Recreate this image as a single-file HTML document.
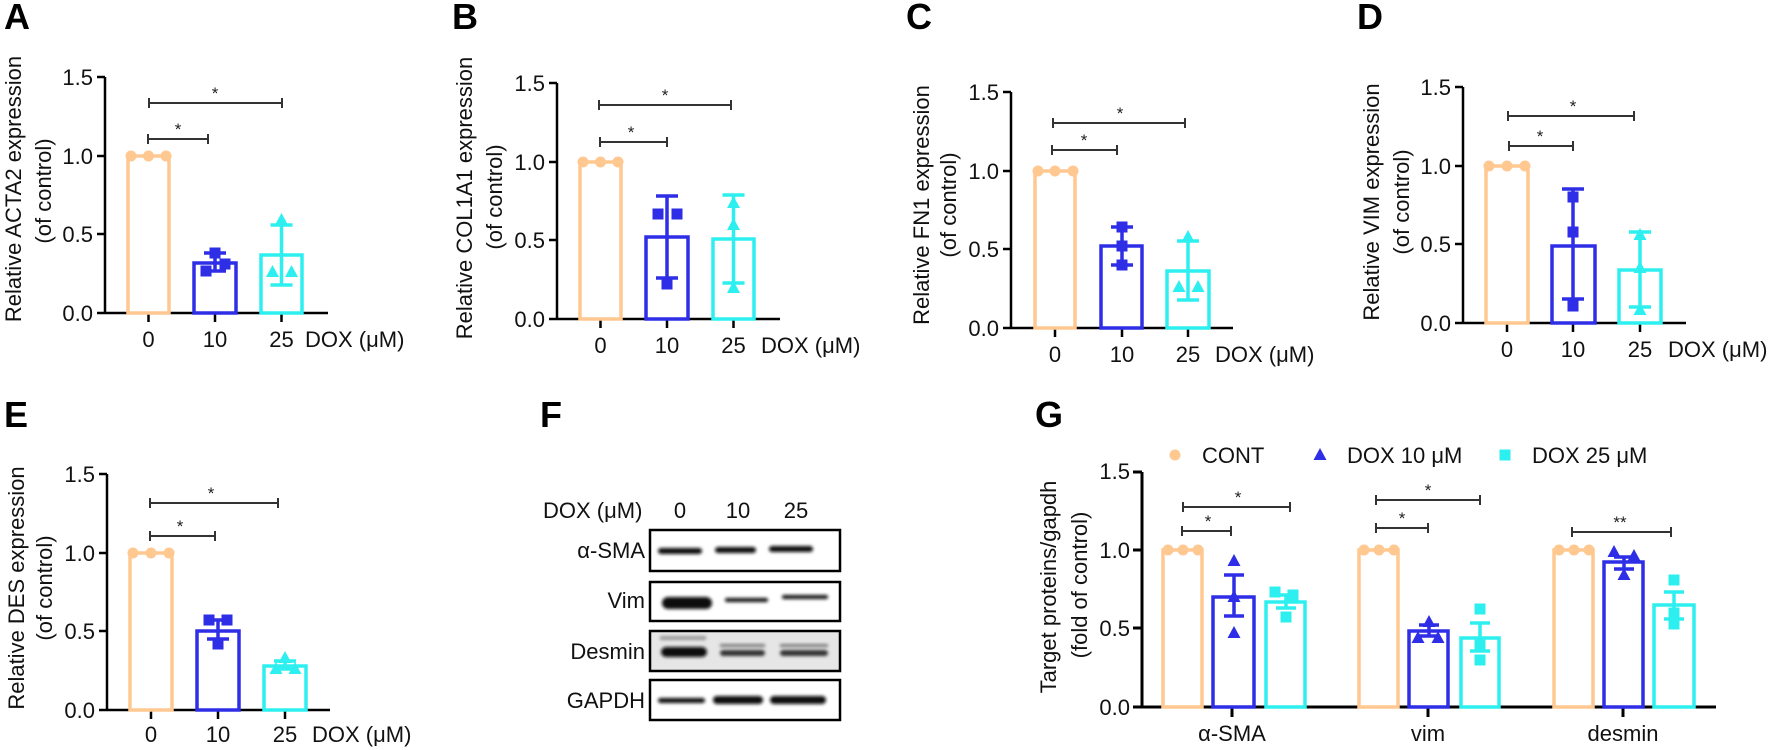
<!DOCTYPE html>
<html><head><meta charset="utf-8"><style>
html,body{margin:0;padding:0;background:#fff;}
svg{display:block;font-family:"Liberation Sans",Arial,sans-serif;}
.t{font-size:22px;fill:#111;}
.L{font-size:36px;font-weight:bold;fill:#000;}
.s{font-size:17px;fill:#222;}
</style></head><body>
<svg width="1772" height="750" viewBox="0 0 1772 750" xmlns="http://www.w3.org/2000/svg">
<defs>
<filter id="bl" x="-20%" y="-100%" width="140%" height="300%"><feGaussianBlur stdDeviation="1.6"/></filter>
</defs>
<rect width="1772" height="750" fill="#fff"/>
<text class="L" x="4" y="29">A</text>
<text class="L" x="452" y="29">B</text>
<text class="L" x="906" y="29">C</text>
<text class="L" x="1357" y="29">D</text>
<text class="L" x="4" y="427">E</text>
<text class="L" x="540" y="427">F</text>
<text class="L" x="1035" y="427">G</text>

<!-- Panel A -->
<g transform="translate(105,313)">
<text class="t" transform="translate(-84,-124) rotate(-90)" text-anchor="middle">Relative ACTA2 expression</text>
<text class="t" transform="translate(-54,-122) rotate(-90)" text-anchor="middle">(of control)</text>
<path d="M0,0V-236M-8,0H223M-8,-79H0M-8,-157H0M-8,-236H0M43.5,0V9M110,0V9M176.5,0V9" stroke="#000" stroke-width="2.5" fill="none"/>
<g class="t" text-anchor="end"><text x="-12" y="8">0.0</text><text x="-12" y="-71">0.5</text><text x="-12" y="-149">1.0</text><text x="-12" y="-228">1.5</text></g>
<g class="t" text-anchor="middle"><text x="43.5" y="34">0</text><text x="110" y="34">10</text><text x="176.5" y="34">25</text></g>
<text class="t" x="200" y="34">DOX (μM)</text>
<rect x="23" y="-157" width="41" height="157" fill="none" stroke="#FFC890" stroke-width="3.5"/>
<g fill="#FFC890"><circle cx="26" cy="-157" r="5.5"/><circle cx="43.5" cy="-157" r="5.5"/><circle cx="61" cy="-157" r="5.5"/></g>
<rect x="89" y="-50" width="42" height="50" fill="none" stroke="#2E2EE6" stroke-width="3.5"/>
<path d="M110,-42V-60M99,-42H121M99,-60H121" stroke="#2E2EE6" stroke-width="3.5"/>
<g fill="#2E2EE6"><rect x="104.5" y="-65.5" width="11" height="11"/><rect x="114.5" y="-54.5" width="11" height="11"/><rect x="95.5" y="-47.5" width="11" height="11"/></g>
<rect x="156" y="-58" width="41" height="58" fill="none" stroke="#2EEFEF" stroke-width="3.5"/>
<path d="M176.5,-28V-88M165.5,-28H187.5M165.5,-88H187.5" stroke="#2EEFEF" stroke-width="3.5"/>
<g fill="#2EEFEF"><polygon points="176.5,-100 183,-88 170,-88"/><polygon points="167.5,-48 174,-36 161,-36"/><polygon points="186.5,-48 193,-36 180,-36"/></g>
<path d="M43,-174H103M43,-179V-169M103,-179V-169M44,-210H177M44,-215V-205M177,-215V-205" stroke="#333" stroke-width="2" fill="none"/>
<text class="s" x="73" y="-178" text-anchor="middle">*</text><text class="s" x="110" y="-214" text-anchor="middle">*</text>
</g>

<!-- Panel B -->
<g transform="translate(557,319)">
<text class="t" transform="translate(-85,-121) rotate(-90)" text-anchor="middle">Relative COL1A1 expression</text>
<text class="t" transform="translate(-55,-122) rotate(-90)" text-anchor="middle">(of control)</text>
<path d="M0,0V-236M-8,0H223M-8,-79H0M-8,-157H0M-8,-236H0M43.5,0V9M110,0V9M176.5,0V9" stroke="#000" stroke-width="2.5" fill="none"/>
<g class="t" text-anchor="end"><text x="-12" y="8">0.0</text><text x="-12" y="-71">0.5</text><text x="-12" y="-149">1.0</text><text x="-12" y="-228">1.5</text></g>
<g class="t" text-anchor="middle"><text x="43.5" y="34">0</text><text x="110" y="34">10</text><text x="176.5" y="34">25</text></g>
<text class="t" x="204" y="34">DOX (μM)</text>
<rect x="23" y="-157" width="41" height="157" fill="none" stroke="#FFC890" stroke-width="3.5"/>
<g fill="#FFC890"><circle cx="26" cy="-157" r="5.5"/><circle cx="43.5" cy="-157" r="5.5"/><circle cx="61" cy="-157" r="5.5"/></g>
<rect x="89" y="-82" width="42" height="82" fill="none" stroke="#2E2EE6" stroke-width="3.5"/>
<path d="M110,-41V-123M99,-41H121M99,-123H121" stroke="#2E2EE6" stroke-width="3.5"/>
<g fill="#2E2EE6"><rect x="95.5" y="-110.5" width="11" height="11"/><rect x="114.5" y="-110.5" width="11" height="11"/><rect x="104.5" y="-40.5" width="11" height="11"/></g>
<rect x="156" y="-80" width="41" height="80" fill="none" stroke="#2EEFEF" stroke-width="3.5"/>
<path d="M176.5,-36V-124M165.5,-36H187.5M165.5,-124H187.5" stroke="#2EEFEF" stroke-width="3.5"/>
<g fill="#2EEFEF"><polygon points="176.5,-123 183,-111 170,-111"/><polygon points="176.5,-101 183,-89 170,-89"/><polygon points="176.5,-38 183,-26 170,-26"/></g>
<path d="M43,-177H110M43,-182V-172M110,-182V-172M42,-214H174M42,-219V-209M174,-219V-209" stroke="#333" stroke-width="2" fill="none"/>
<text class="s" x="74" y="-181" text-anchor="middle">*</text><text class="s" x="108" y="-218" text-anchor="middle">*</text>
</g>

<!-- Panel C -->
<g transform="translate(1011,328)">
<text class="t" transform="translate(-82,-123) rotate(-90)" text-anchor="middle">Relative FN1 expression</text>
<text class="t" transform="translate(-55,-123) rotate(-90)" text-anchor="middle">(of control)</text>
<path d="M0,0V-236M-8,0H222M-8,-79H0M-8,-157H0M-8,-236H0M44,0V9M111,0V9M177,0V9" stroke="#000" stroke-width="2.5" fill="none"/>
<g class="t" text-anchor="end"><text x="-12" y="8">0.0</text><text x="-12" y="-71">0.5</text><text x="-12" y="-149">1.0</text><text x="-12" y="-228">1.5</text></g>
<g class="t" text-anchor="middle"><text x="44" y="34">0</text><text x="111" y="34">10</text><text x="177" y="34">25</text></g>
<text class="t" x="204" y="34">DOX (μM)</text>
<rect x="24" y="-157" width="40" height="157" fill="none" stroke="#FFC890" stroke-width="3.5"/>
<g fill="#FFC890"><circle cx="27" cy="-157" r="5.5"/><circle cx="44" cy="-157" r="5.5"/><circle cx="62" cy="-157" r="5.5"/></g>
<rect x="90" y="-82" width="41" height="82" fill="none" stroke="#2E2EE6" stroke-width="3.5"/>
<path d="M111,-63V-101M100,-63H122M100,-101H122" stroke="#2E2EE6" stroke-width="3.5"/>
<g fill="#2E2EE6"><rect x="105.5" y="-106.5" width="11" height="11"/><rect x="105.5" y="-87.5" width="11" height="11"/><rect x="105.5" y="-68.5" width="11" height="11"/></g>
<rect x="156" y="-57" width="42" height="57" fill="none" stroke="#2EEFEF" stroke-width="3.5"/>
<path d="M177,-28V-87M166,-28H188M166,-87H188" stroke="#2EEFEF" stroke-width="3.5"/>
<g fill="#2EEFEF"><polygon points="177,-98 183.5,-86 170.5,-86"/><polygon points="168,-48 174.5,-36 161.5,-36"/><polygon points="187,-48 193.5,-36 180.5,-36"/></g>
<path d="M41,-178H106M41,-183V-173M106,-183V-173M42,-205H174M42,-210V-200M174,-210V-200" stroke="#333" stroke-width="2" fill="none"/>
<text class="s" x="73" y="-182" text-anchor="middle">*</text><text class="s" x="109" y="-209" text-anchor="middle">*</text>
</g>

<!-- Panel D -->
<g transform="translate(1463,323)">
<text class="t" transform="translate(-84,-121) rotate(-90)" text-anchor="middle">Relative VIM expression</text>
<text class="t" transform="translate(-54,-121) rotate(-90)" text-anchor="middle">(of control)</text>
<path d="M0,0V-236M-8,0H223M-8,-79H0M-8,-157H0M-8,-236H0M44,0V9M110,0V9M177,0V9" stroke="#000" stroke-width="2.5" fill="none"/>
<g class="t" text-anchor="end"><text x="-12" y="8">0.0</text><text x="-12" y="-71">0.5</text><text x="-12" y="-149">1.0</text><text x="-12" y="-228">1.5</text></g>
<g class="t" text-anchor="middle"><text x="44" y="34">0</text><text x="110" y="34">10</text><text x="177" y="34">25</text></g>
<text class="t" x="205" y="34">DOX (μM)</text>
<rect x="23" y="-157" width="42" height="157" fill="none" stroke="#FFC890" stroke-width="3.5"/>
<g fill="#FFC890"><circle cx="26" cy="-157" r="5.5"/><circle cx="44" cy="-157" r="5.5"/><circle cx="62" cy="-157" r="5.5"/></g>
<rect x="89" y="-77" width="43" height="77" fill="none" stroke="#2E2EE6" stroke-width="3.5"/>
<path d="M110,-24V-134M99,-24H121M99,-134H121" stroke="#2E2EE6" stroke-width="3.5"/>
<g fill="#2E2EE6"><rect x="104.5" y="-131.5" width="11" height="11"/><rect x="104.5" y="-96.5" width="11" height="11"/><rect x="104.5" y="-22.5" width="11" height="11"/></g>
<rect x="156" y="-53" width="42" height="53" fill="none" stroke="#2EEFEF" stroke-width="3.5"/>
<path d="M177,-16V-91M166,-16H188M166,-91H188" stroke="#2EEFEF" stroke-width="3.5"/>
<g fill="#2EEFEF"><polygon points="177,-95 183.5,-83 170.5,-83"/><polygon points="177,-62 183.5,-50 170.5,-50"/><polygon points="177,-20 183.5,-8 170.5,-8"/></g>
<path d="M46,-177H110M46,-182V-172M110,-182V-172M45,-207H171M45,-212V-202M171,-212V-202" stroke="#333" stroke-width="2" fill="none"/>
<text class="s" x="77" y="-181" text-anchor="middle">*</text><text class="s" x="110" y="-211" text-anchor="middle">*</text>
</g>

<!-- Panel E -->
<g transform="translate(107,710)">
<text class="t" transform="translate(-83,-122) rotate(-90)" text-anchor="middle">Relative DES expression</text>
<text class="t" transform="translate(-55,-122) rotate(-90)" text-anchor="middle">(of control)</text>
<path d="M0,0V-236M-8,0H223M-8,-79H0M-8,-157H0M-8,-236H0M44,0V9M111,0V9M178,0V9" stroke="#000" stroke-width="2.5" fill="none"/>
<g class="t" text-anchor="end"><text x="-12" y="8">0.0</text><text x="-12" y="-71">0.5</text><text x="-12" y="-149">1.0</text><text x="-12" y="-228">1.5</text></g>
<g class="t" text-anchor="middle"><text x="44" y="32">0</text><text x="111" y="32">10</text><text x="178" y="32">25</text></g>
<text class="t" x="205" y="32">DOX (μM)</text>
<rect x="23" y="-157" width="42" height="157" fill="none" stroke="#FFC890" stroke-width="3.5"/>
<g fill="#FFC890"><circle cx="26" cy="-157" r="5.5"/><circle cx="44" cy="-157" r="5.5"/><circle cx="62" cy="-157" r="5.5"/></g>
<rect x="90" y="-79" width="42" height="79" fill="none" stroke="#2E2EE6" stroke-width="3.5"/>
<path d="M111,-71V-90M100,-71H122M100,-90H122" stroke="#2E2EE6" stroke-width="3.5"/>
<g fill="#2E2EE6"><rect x="96.5" y="-95.5" width="11" height="11"/><rect x="114.5" y="-95.5" width="11" height="11"/><rect x="105.5" y="-71.5" width="11" height="11"/></g>
<rect x="157" y="-44" width="42" height="44" fill="none" stroke="#2EEFEF" stroke-width="3.5"/>
<path d="M178,-41V-49M167,-41H189M167,-49H189" stroke="#2EEFEF" stroke-width="3.5"/>
<g fill="#2EEFEF"><polygon points="178,-59 184.5,-47 171.5,-47"/><polygon points="169,-48 175.5,-36 162.5,-36"/><polygon points="188,-48 194.5,-36 181.5,-36"/></g>
<path d="M43,-174H108M43,-179V-169M108,-179V-169M43,-207H171M43,-212V-202M171,-212V-202" stroke="#333" stroke-width="2" fill="none"/>
<text class="s" x="73" y="-178" text-anchor="middle">*</text><text class="s" x="104" y="-211" text-anchor="middle">*</text>
</g>

<!-- Panel F -->
<g>
<text class="t" x="543" y="518">DOX (μM)</text>
<g class="t" text-anchor="middle"><text x="680" y="518">0</text><text x="738" y="518">10</text><text x="796" y="518">25</text></g>
<g class="t" text-anchor="end"><text x="645" y="558">α-SMA</text><text x="645" y="608">Vim</text><text x="645" y="659">Desmin</text><text x="645" y="708">GAPDH</text></g>
<rect x="651" y="631" width="188" height="40" fill="#e6e6e6"/>
<g filter="url(#bl)" fill="#111">
<rect x="658" y="548" width="44" height="6" rx="3"/>
<rect x="715" y="547" width="41" height="6" rx="3"/>
<rect x="769" y="546" width="44" height="6" rx="3"/>
<rect x="662" y="597" width="50" height="12" rx="6"/>
<rect x="725" y="598" width="43" height="4" rx="2"/>
<rect x="782" y="595" width="46" height="4" rx="2"/>
<rect x="661" y="647" width="46" height="10" rx="5"/>
<rect x="720" y="650" width="45" height="6" rx="3" fill="#333"/>
<rect x="780" y="650" width="48" height="6" rx="3" fill="#333"/>
<rect x="720" y="644" width="45" height="3" fill="#777"/>
<rect x="780" y="644" width="48" height="3" fill="#777"/>
<rect x="660" y="636" width="46" height="4" fill="#999"/>
<rect x="658" y="698" width="47" height="5" rx="2.5"/>
<rect x="713" y="696" width="50" height="8" rx="4"/>
<rect x="770" y="696" width="56" height="8" rx="4"/>
</g>
<g fill="none" stroke="#000" stroke-width="2.5">
<rect x="650" y="530" width="190" height="41"/>
<rect x="650" y="582" width="190" height="39"/>
<rect x="650" y="631" width="190" height="40"/>
<rect x="650" y="680" width="190" height="40"/>
</g>
</g>

<!-- Panel G -->
<g class="t">
<circle cx="1175" cy="455" r="5.5" fill="#FFC890"/><text x="1202" y="463">CONT</text>
<polygon points="1320,448 1326.5,460 1313.5,460" fill="#2E2EE6"/><text x="1347" y="463">DOX 10 μM</text>
<rect x="1499.5" y="449.5" width="11" height="11" fill="#2EEFEF"/><text x="1532" y="463">DOX 25 μM</text>
</g>
<g transform="translate(1142,707)">
<text class="t" transform="translate(-86,-120) rotate(-90)" text-anchor="middle">Target proteins/gapdh</text>
<text class="t" transform="translate(-55,-122) rotate(-90)" text-anchor="middle">(fold of control)</text>
<path d="M0,0V-235M-9,0H574M-9,-79H0M-9,-157H0M-9,-235H0M90,0V10M286,0V10M481,0V10" stroke="#000" stroke-width="3" fill="none"/>
<g class="t" text-anchor="end"><text x="-12" y="8">0.0</text><text x="-12" y="-71">0.5</text><text x="-12" y="-149">1.0</text><text x="-12" y="-228">1.5</text></g>
<g class="t" text-anchor="middle"><text x="90" y="34">α-SMA</text><text x="286" y="34">vim</text><text x="481" y="34">desmin</text></g>
<g fill="none" stroke="#FFC890" stroke-width="3.5">
<rect x="21" y="-157" width="39" height="157"/><rect x="217" y="-157" width="39" height="157"/><rect x="412" y="-157" width="39" height="157"/>
</g>
<g fill="#FFC890">
<circle cx="26" cy="-157" r="5.5"/><circle cx="41" cy="-157" r="5.5"/><circle cx="56" cy="-157" r="5.5"/>
<circle cx="222" cy="-157" r="5.5"/><circle cx="237" cy="-157" r="5.5"/><circle cx="252" cy="-157" r="5.5"/>
<circle cx="417" cy="-157" r="5.5"/><circle cx="432" cy="-157" r="5.5"/><circle cx="447" cy="-157" r="5.5"/>
</g>
<g fill="none" stroke="#2E2EE6" stroke-width="3.5">
<rect x="71" y="-110" width="41" height="110"/><rect x="267" y="-76" width="39" height="76"/><rect x="462" y="-145" width="39" height="145"/>
<path d="M92,-91V-132M82,-91H102M82,-132H102M287,-71V-82M277,-71H297M277,-82H297M482,-138V-150M472,-138H492M472,-150H492"/>
</g>
<g fill="#2E2EE6">
<polygon points="92,-153 98.5,-141 85.5,-141"/><polygon points="92,-117 98.5,-105 85.5,-105"/><polygon points="92,-81 98.5,-69 85.5,-69"/>
<polygon points="287,-92 293.5,-80 280.5,-80"/><polygon points="276,-76 282.5,-64 269.5,-64"/><polygon points="296,-76 302.5,-64 289.5,-64"/>
<polygon points="472,-162 478.5,-150 465.5,-150"/><polygon points="492,-158 498.5,-146 485.5,-146"/><polygon points="482,-139 488.5,-127 475.5,-127"/>
</g>
<g fill="none" stroke="#2EEFEF" stroke-width="3.5">
<rect x="124" y="-105" width="39" height="105"/><rect x="319" y="-69" width="38" height="69"/><rect x="512" y="-102" width="40" height="102"/>
<path d="M144,-99V-112M134,-99H154M134,-112H154M338,-56V-84M328,-56H348M328,-84H348M532,-88V-115M522,-88H542M522,-115H542"/>
</g>
<g fill="#2EEFEF">
<rect x="127.5" y="-120.5" width="11" height="11"/><rect x="145.5" y="-117.5" width="11" height="11"/><rect x="138.5" y="-95.5" width="11" height="11"/>
<rect x="332.5" y="-103.5" width="11" height="11"/><rect x="332.5" y="-68.5" width="11" height="11"/><rect x="332.5" y="-52.5" width="11" height="11"/>
<rect x="526.5" y="-132.5" width="11" height="11"/><rect x="526.5" y="-99.5" width="11" height="11"/><rect x="526.5" y="-88.5" width="11" height="11"/>
</g>
<path d="M40,-176H89M40,-181V-171M89,-181V-171M41,-200H148M41,-205V-195M148,-205V-195M234,-179H286M234,-184V-174M286,-184V-174M234,-207H338M234,-212V-202M338,-212V-202M430,-175H529M430,-180V-170M529,-180V-170" stroke="#333" stroke-width="2" fill="none"/>
<g class="s" text-anchor="middle"><text x="66" y="-180">*</text><text x="96" y="-204">*</text><text x="260" y="-183">*</text><text x="286" y="-211">*</text><text x="478" y="-179">**</text></g>
</g>
</svg>
</body></html>
